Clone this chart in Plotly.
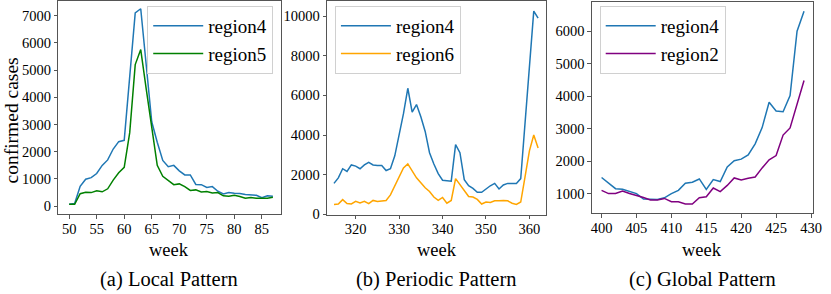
import plotly.graph_objects as go

# ---- data ----
weeks_a = list(range(50, 88))
a_region4 = [70, 100, 730, 990, 1050, 1200, 1500, 1700, 2100, 2370, 2420, 4800, 7100, 7250,
             5200, 3100, 2350, 1680, 1450, 1500, 1300, 1150, 1150, 800, 790, 690, 720, 550,
             450, 500, 480, 470, 430, 420, 400, 310, 380, 370]
a_region5 = [70, 70, 460, 510, 500, 570, 530, 640, 960, 1230, 1430, 2700, 5200, 5750,
             4300, 2900, 1500, 1100, 950, 790, 820, 720, 580, 600, 520, 540, 490, 500,
             380, 370, 400, 360, 290, 320, 290, 280, 290, 330]

weeks_b = list(range(315, 363))
b_region4 = [1560, 1840, 2300, 2160, 2490, 2430, 2300, 2490, 2620, 2490, 2460, 2460, 2210,
             2300, 2950, 3930, 5080, 6360, 5160, 5540, 4920, 4180, 3110, 2540, 2050, 1720,
             1690, 1670, 3520, 3110, 1750, 1440, 1310, 1110, 1110, 1280, 1440, 1560, 1280,
             1480, 1560, 1560, 1560, 1800, 4620, 7430, 10250, 9900]
b_region6 = [490, 520, 740, 540, 520, 650, 570, 650, 540, 700, 650, 690, 700, 980, 1440,
             1890, 2340, 2540, 2210, 1840, 1590, 1340, 1150, 870, 700, 850, 560, 700, 1800,
             1500, 1250, 900, 870, 750, 520, 620, 600, 680, 680, 700, 680, 560, 500, 620,
             1900, 3200, 4000, 3350]

weeks_c = list(range(400, 430))
c_region4 = [1495, 1320, 1150, 1130, 1070, 1000, 830, 820, 820, 870, 1000, 1100, 1320, 1350,
             1450, 1130, 1430, 1370, 1820, 2010, 2060, 2190, 2530, 3030, 3810, 3540, 3520,
             4020, 6000, 6610]
c_region2 = [1100, 1000, 1000, 1080, 1000, 950, 880, 800, 800, 850, 750, 750, 680, 680, 870,
             900, 1170, 1060, 1250, 1480, 1420, 1470, 1510, 1790, 2040, 2170, 2800, 3020,
             3750, 4480]

xticks_a = [50, 55, 60, 65, 70, 75, 80, 85]
yticks_a = [0, 1000, 2000, 3000, 4000, 5000, 6000, 7000]
xticks_b = [320, 330, 340, 350, 360]
yticks_b = [0, 2000, 4000, 6000, 8000, 10000]
xticks_c = [400, 405, 410, 415, 420, 425, 430]
yticks_c = [1000, 2000, 3000, 4000, 5000, 6000]

captions = ["(a) Local Pattern", "(b) Periodic Pattern", "(c) Global Pattern"]

# ---- styling ----
W, H = 831, 294
FONT = "Liberation Serif"
BLUE = "#1f77b4"
GREEN = "#008000"
ORANGE = "#FFA500"
PURPLE = "#800080"

def px_x(x):
    return x / W

def px_y(y):
    return 1 - y / H

panels = [
    dict(x0=58, x1=283, y0=1, y1=220),
    dict(x0=330, x1=552, y0=1.5, y1=220.5),
    dict(x0=598, x1=822, y0=2, y1=219),
]

fig = go.Figure()

series = [
    (weeks_a, a_region4, "region4", BLUE, 1, "legend"),
    (weeks_a, a_region5, "region5", GREEN, 1, "legend"),
    (weeks_b, b_region4, "region4", BLUE, 2, "legend2"),
    (weeks_b, b_region6, "region6", ORANGE, 2, "legend2"),
    (weeks_c, c_region4, "region4", BLUE, 3, "legend3"),
    (weeks_c, c_region2, "region2", PURPLE, 3, "legend3"),
]
for xs, ys, name, col, k, lg in series:
    sfx = "" if k == 1 else str(k)
    fig.add_trace(go.Scatter(x=xs, y=ys, mode="lines", name=name,
                             line=dict(color=col, width=1.5),
                             xaxis="x" + sfx, yaxis="y" + sfx, legend=lg))

axis_common = dict(showline=True, mirror=True, linecolor="#555", linewidth=1,
                   ticks="outside", ticklen=3.5, tickwidth=0.8, tickcolor="#555",
                   showgrid=False, zeroline=False,
                   tickfont=dict(family=FONT, size=14.5, color="black"))

xranges = [[48.03, 88.4], [313.4, 363.9], [398.6, 430.3]]
yranges = [[-286, 7536], [-10, 10740], [400, 6900]]
xt = [xticks_a, xticks_b, xticks_c]
yt = [yticks_a, yticks_b, yticks_c]

layout = {}
for i, p in enumerate(panels):
    sfx = "" if i == 0 else str(i + 1)
    layout["xaxis" + sfx] = dict(axis_common, domain=[px_x(p["x0"]), px_x(p["x1"])],
                                 range=xranges[i], tickvals=xt[i], tickformat="d",
                                 ticklabeloverflow="allow", ticklabelstandoff=-2,
                                 anchor="y" + sfx)
    layout["yaxis" + sfx] = dict(axis_common, domain=[px_y(p["y1"]), px_y(p["y0"])],
                                 range=yranges[i], tickvals=yt[i], tickformat="d",
                                 anchor="x" + sfx)

leg_common = dict(font=dict(family=FONT, size=19, color="black"),
                  bgcolor="white", bordercolor="#d0d0d0", borderwidth=1,
                  xanchor="left", yanchor="top", tracegroupgap=0, itemwidth=50)
layout["legend"] = dict(leg_common, x=px_x(148), y=px_y(6))
layout["legend2"] = dict(leg_common, x=px_x(338), y=px_y(6))
layout["legend3"] = dict(leg_common, x=px_x(606), y=px_y(6))

annotations = []
for i, p in enumerate(panels):
    cx = px_x((p["x0"] + p["x1"]) / 2)
    annotations.append(dict(text="week", x=cx, y=px_y(256.5), xref="paper", yref="paper",
                            showarrow=False, xanchor="center", yanchor="middle",
                            font=dict(family=FONT, size=18.5, color="black")))
    annotations.append(dict(text=captions[i], x=cx, y=px_y(287), xref="paper", yref="paper",
                            showarrow=False, xanchor="center", yanchor="middle",
                            font=dict(family=FONT, size=20.5, color="black")))
annotations.append(dict(text="confirmed cases", x=px_x(11), y=px_y(124), xref="paper",
                        yref="paper", showarrow=False, textangle=-90,
                        xanchor="center", yanchor="middle",
                        font=dict(family=FONT, size=19.5, color="black")))

fig.update_layout(**layout)
fig.update_layout(width=W, height=H, margin=dict(l=0, r=0, t=0, b=0),
                  paper_bgcolor="white", plot_bgcolor="white",
                  showlegend=True, annotations=annotations)

fig.write_html("out.html", config={"displayModeBar": False},
               post_script="document.body.style.margin='0';document.body.style.overflow='hidden';")
